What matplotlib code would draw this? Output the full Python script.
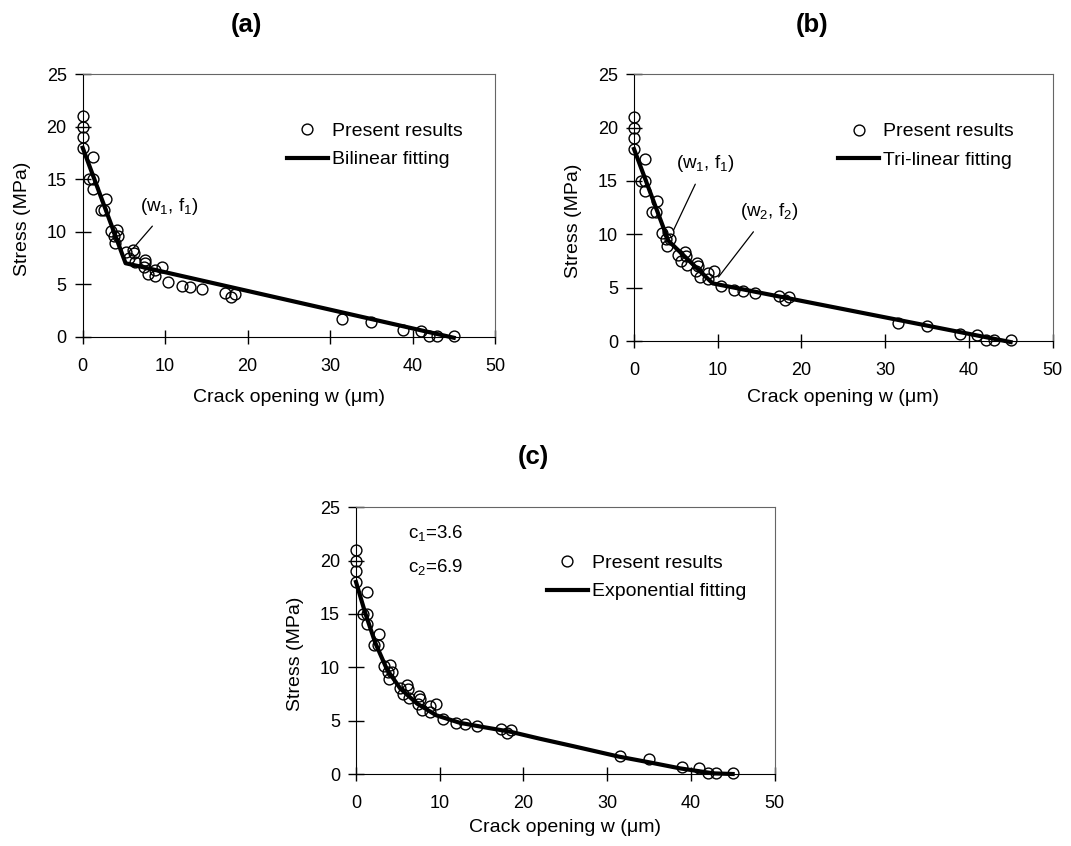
import matplotlib
matplotlib.use("Agg")
import matplotlib.pyplot as plt

plt.rcParams["font.family"] = ["Liberation Sans", "DejaVu Sans"]
plt.rcParams["mathtext.fontset"] = "custom"
plt.rcParams["mathtext.rm"] = "Liberation Sans"
plt.rcParams["mathtext.it"] = "Liberation Sans:italic"
plt.rcParams["mathtext.default"] = "regular"

# measured results (same in all three panels)
w_data = [0.0, 0.0, 0.0, 0.0, 1.3, 0.8, 1.3, 1.3, 2.2, 2.6, 2.8, 3.4, 4.1, 3.8,
          4.3, 3.9, 5.3, 5.6, 6.1, 6.2, 6.3, 7.5, 7.6, 7.4, 7.9, 8.8, 8.8, 9.6,
          10.4, 12.0, 13.0, 14.5, 17.3, 18.0, 18.5, 31.5, 35.0, 38.9, 41.0,
          42.0, 43.0, 45.0]
f_data = [21.0, 20.0, 19.0, 18.0, 17.1, 15.0, 15.0, 14.1, 12.1, 12.1, 13.1, 10.1,
          10.2, 9.6, 9.6, 8.9, 8.1, 7.5, 8.3, 8.0, 7.1, 7.3, 7.0, 6.6, 6.0, 6.4,
          5.8, 6.6, 5.2, 4.8, 4.7, 4.5, 4.2, 3.8, 4.1, 1.65, 1.4, 0.65, 0.55,
          0.05, 0.05, 0.1]

# fitted softening curves
bi_w = [0.0, 5.2, 45.0]
bi_f = [18.0, 7.0, -0.1]
tri_w = [0.0, 4.1, 9.4, 45.0]
tri_f = [18.0, 9.4, 5.4, -0.1]
exp_w = [0.0, 1.1, 2.3, 3.7, 5.3, 7.3, 9.6, 12.4, 15.2, 18.4, 22.0, 26.0,
         31.4, 35.0, 38.7, 42.7, 45.0]
exp_f = [18.0, 15.1, 12.3, 9.8, 8.0, 6.6, 5.5, 4.8, 4.4, 3.97, 3.3, 2.6,
         1.63, 1.1, 0.53, 0.06, 0.0]

W, H = 1071, 846
fig = plt.figure(figsize=(W / 100, H / 100), dpi=100)


def make_axes(left, top, right, bottom, xlab_off):
    ax = fig.add_axes([left / W, 1 - bottom / H, (right - left) / W, (bottom - top) / H])
    ax.set_xlim(0, 50)
    ax.set_ylim(0, 25)
    ax.set_xticks(range(0, 51, 10))
    ax.set_yticks(range(0, 26, 5))
    ax.tick_params(axis="x", direction="inout", length=10, width=1, pad=10, labelsize=13)
    ax.tick_params(axis="y", direction="inout", length=11, width=1, pad=6, labelsize=13)
    for s in ["top", "right"]:
        ax.spines[s].set_color("#666666")
    for s in ["left", "bottom"]:
        ax.spines[s].set_color("black")
    ax.set_xlabel("Crack opening w (\u03bcm)", fontsize=14)
    ax.set_ylabel("Stress (MPa)", fontsize=14)
    ax.xaxis.set_label_coords(0.5, -xlab_off / (bottom - top))
    ax.yaxis.set_label_coords(-52 / (right - left), 0.45)
    return ax


def draw(ax, fw, ff, fit_label, lx, ly):
    ax.plot(w_data, f_data, "o", mfc="none", mec="black", ms=7.8, mew=1.0,
            clip_on=False, zorder=3, label="Present results")
    ax.plot(fw, ff, "-", color="black", lw=3.0, clip_on=False, zorder=4, label=fit_label)
    ax.legend(loc="center left", bbox_to_anchor=(lx, ly), frameon=False,
              fontsize=14, handlelength=2.1, handletextpad=0.2,
              labelspacing=0.55, borderpad=0, borderaxespad=0)


arrow = dict(arrowstyle="-", color="black", lw=0.9, shrinkA=6, shrinkB=0)

ax_a = make_axes(82.7, 74.3, 495, 336.7, 52)
draw(ax_a, bi_w, bi_f, "Bilinear fitting", 0.495, 0.729)
ax_a.annotate("(w$_1$, f$_1$)", xy=(6.1, 8.4), xytext=(10.5, 12.4), fontsize=13.5,
              ha="center", va="center", arrowprops=arrow)

ax_b = make_axes(634, 74.3, 1052.5, 341, 48)
draw(ax_b, tri_w, tri_f, "Tri-linear fitting", 0.488, 0.732)
ax_b.annotate("(w$_1$, f$_1$)", xy=(4.7, 10.35), xytext=(8.5, 16.65), fontsize=13.5,
              ha="center", va="center", arrowprops=arrow)
ax_b.annotate("(w$_2$, f$_2$)", xy=(10.1, 6.0), xytext=(16.1, 12.1), fontsize=13.5,
              ha="center", va="center", arrowprops=arrow)

ax_c = make_axes(356, 507.3, 774.5, 774, 45)
draw(ax_c, exp_w, exp_f, "Exponential fitting", 0.456, 0.737)
ax_c.text(6.2, 22.6, "c$_1$=3.6", fontsize=13.5, ha="left", va="center")
ax_c.text(6.2, 19.4, "c$_2$=6.9", fontsize=13.5, ha="left", va="center")

fig.text(246 / W, 1 - 25 / H, "(a)", fontsize=18.5, fontweight="bold", ha="center", va="center")
fig.text(812 / W, 1 - 25 / H, "(b)", fontsize=18.5, fontweight="bold", ha="center", va="center")
fig.text(533 / W, 1 - 457 / H, "(c)", fontsize=18.5, fontweight="bold", ha="center", va="center")

fig.savefig("out.png", dpi=100)
